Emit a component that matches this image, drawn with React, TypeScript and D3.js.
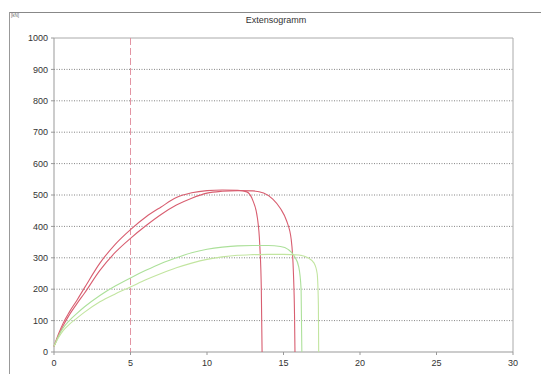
import React from 'react';
import * as d3 from 'd3';

type Pt = [number, number];

// strain [%] , force
const red1: Pt[] = [
  [0, 18], [0.3, 58], [0.6, 92], [1, 127], [1.5, 165], [2, 205], [3, 283], [4, 343], [5, 390],
  [6, 430], [7, 462], [8, 492], [9, 507], [10, 514], [11, 516], [12, 515], [12.6, 510],
  [13.0, 482], [13.3, 425], [13.45, 340], [13.55, 200], [13.6, 0],
];
const red2: Pt[] = [
  [0, 18], [0.3, 52], [0.6, 84], [1, 118], [1.5, 154], [2, 188], [3, 260], [4, 317], [5, 362],
  [6, 402], [7, 438], [8, 468], [9, 490], [10, 506], [11, 512], [12, 514], [13, 513],
  [13.7, 506], [14.3, 487], [14.8, 457], [15.2, 418], [15.5, 360], [15.65, 250], [15.72, 120], [15.75, 0],
];
const green1: Pt[] = [
  [0, 18], [0.3, 52], [0.6, 77], [1, 100], [1.5, 123], [2, 144], [3, 180], [4, 210], [5, 236],
  [6, 260], [7, 282], [8, 300], [9, 316], [10, 327], [11, 334], [12, 338], [13, 339], [14, 339],
  [14.8, 336], [15.3, 327], [15.7, 306], [16.0, 270], [16.15, 200], [16.2, 0],
];
const green2: Pt[] = [
  [0, 18], [0.3, 46], [0.6, 68], [1, 88], [1.5, 108], [2, 127], [3, 160], [4, 185], [5, 207],
  [6, 230], [7, 250], [8, 268], [9, 283], [10, 295], [11, 303], [12, 308], [13, 310], [14, 311],
  [15, 311], [16, 309], [16.6, 300], [17.0, 283], [17.2, 250], [17.28, 150], [17.3, 0],
];

const xTicks = [0, 5, 10, 15, 20, 25, 30];
const yTicks = [0, 100, 200, 300, 400, 500, 600, 700, 800, 900, 1000];
const markerX = 5;

const series = [
  { data: red1, color: '#d85e70' },
  { data: red2, color: '#d85e70' },
  { data: green1, color: '#ace09a' },
  { data: green2, color: '#c2e5a0' },
];

const W = 541;
const H = 374;
const M = { left: 54, right: 28, top: 38, bottom: 22 };

export default function App() {
  const x = d3.scaleLinear().domain([0, 30]).range([M.left, W - M.right]);
  const y = d3.scaleLinear().domain([0, 1000]).range([H - M.bottom, M.top]);
  const line = d3
    .line<Pt>()
    .x((d) => x(d[0]))
    .y((d) => y(d[1]))
    .curve(d3.curveMonotoneX);

  const font = "'Liberation Sans', Arial, sans-serif";

  return (
    <svg
      width={W}
      height={H}
      style={{ position: 'absolute', left: 0, top: 0, background: '#fff' }}
      fontFamily={font}
    >
      {/* outer frame */}
      <line x1={10} y1={12.5} x2={W} y2={12.5} stroke="#888" strokeWidth={1} />
      <line x1={9.5} y1={12} x2={9.5} y2={H} stroke="#999" strokeWidth={1} />
      <text x={11} y={17} fontSize={4.5} fill="#666">[kN]</text>
      <text x={276} y={23} fontSize={9} textAnchor="middle" fill="#333">Extensogramm</text>

      {/* grid */}
      {yTicks.filter((t) => t > 0 && t < 1000).map((t) => (
        <line key={t} x1={x(0)} x2={x(30)} y1={y(t)} y2={y(t)} stroke="#666" strokeWidth={0.8} strokeDasharray="1,1.5" />
      ))}

      {/* plot box */}
      <line x1={x(0)} x2={x(30)} y1={y(1000)} y2={y(1000)} stroke="#aaa" />
      <line x1={x(30)} x2={x(30)} y1={y(1000)} y2={y(0)} stroke="#aaa" />
      <line x1={x(0)} x2={x(0)} y1={y(1000)} y2={y(0)} stroke="#999" />
      <line x1={x(0)} x2={x(30)} y1={y(0)} y2={y(0)} stroke="#999" />

      {/* y ticks */}
      {yTicks.map((t) => (
        <g key={t}>
          <line x1={x(0) - 3} x2={x(0)} y1={y(t)} y2={y(t)} stroke="#999" />
          <text x={x(0) - 6} y={y(t)} dy="0.35em" fontSize={9} textAnchor="end" fill="#333">{t}</text>
        </g>
      ))}
      {/* x ticks */}
      {xTicks.map((t) => (
        <g key={t}>
          <line x1={x(t)} x2={x(t)} y1={y(0)} y2={y(0) + 3} stroke="#999" />
          <text x={x(t)} y={y(0) + 14} fontSize={9} textAnchor="middle" fill="#333">{t}</text>
        </g>
      ))}

      {/* marker at 5 % */}
      <line x1={x(markerX)} x2={x(markerX)} y1={y(1000)} y2={y(0)} stroke="#e08898" strokeWidth={0.9} strokeDasharray="7,3" />

      {/* curves */}
      {series.map((s, i) => (
        <path key={i} d={line(s.data) ?? ''} fill="none" stroke={s.color} strokeWidth={1.1} />
      ))}
    </svg>
  );
}
